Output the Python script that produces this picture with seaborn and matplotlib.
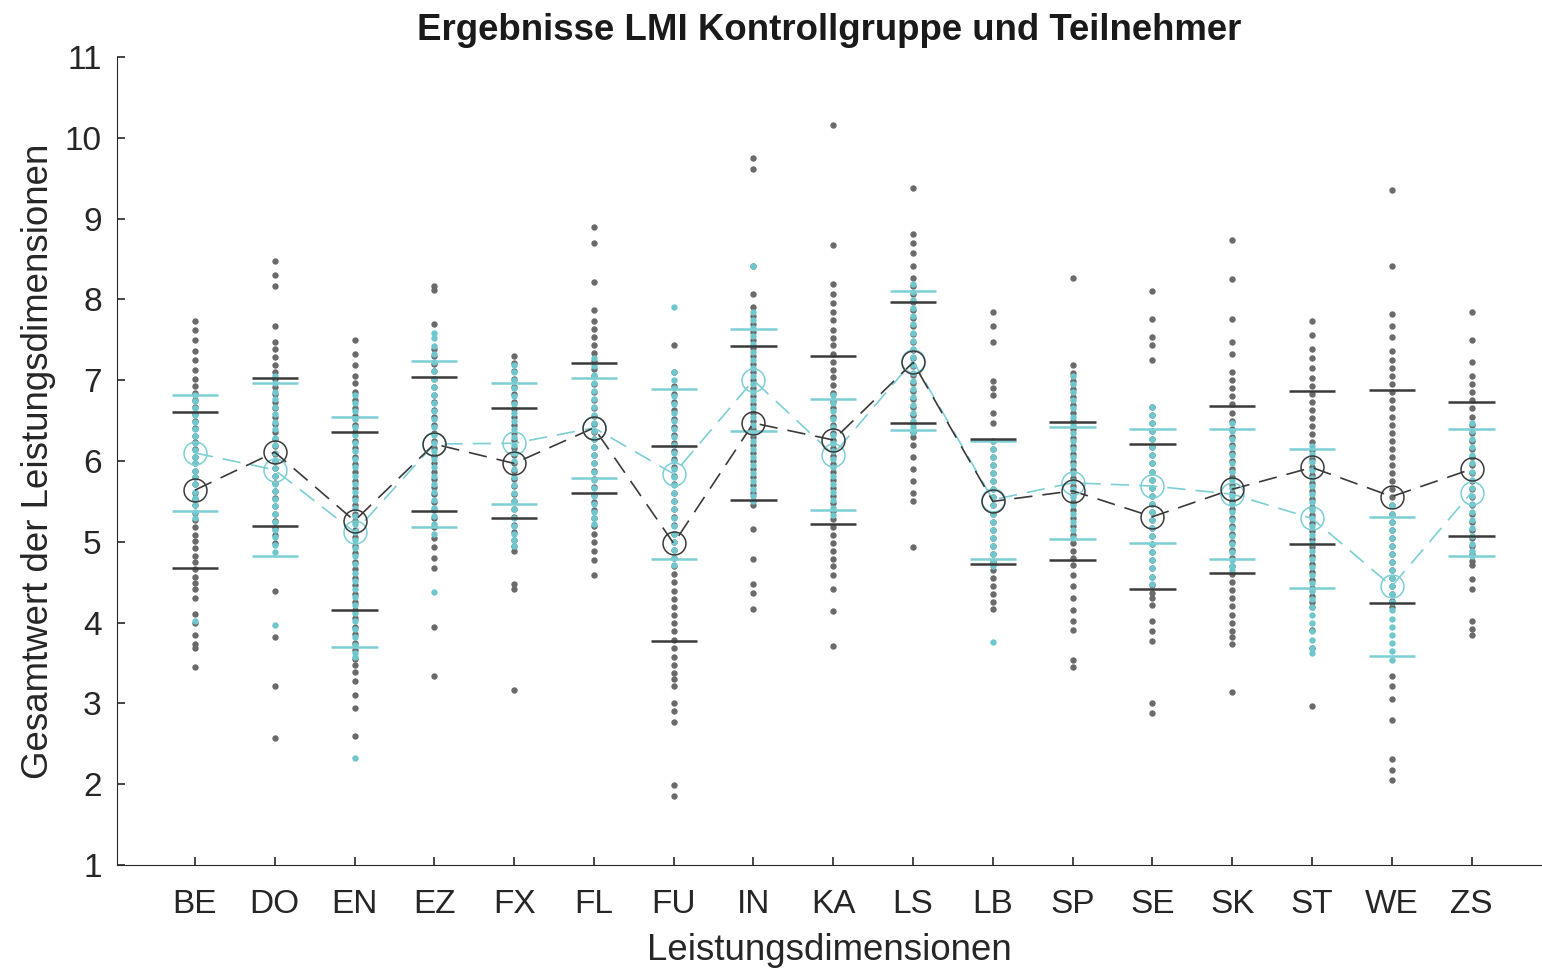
import pandas as pd
import matplotlib
matplotlib.use('Agg')
import matplotlib.pyplot as plt
import seaborn as sns

dimensionen = ['BE', 'DO', 'EN', 'EZ', 'FX', 'FL', 'FU', 'IN', 'KA',
               'LS', 'LB', 'SP', 'SE', 'SK', 'ST', 'WE', 'ZS']

# Einzelwerte Kontrollgruppe (grau)
kg_BE = [7.73, 7.62, 7.50, 7.36, 7.25, 7.13, 7.02, 6.93, 6.84, 6.76, 6.67, 6.58, 6.50, 6.41,
         6.31, 6.23, 6.15, 6.05, 5.97, 5.88, 5.80, 5.71, 5.61, 5.53, 5.45, 5.36, 5.27, 5.18,
         5.09, 5.01, 4.92, 4.83, 4.75, 4.66, 4.57, 4.49, 4.42, 4.31, 4.11, 4.00, 3.85, 3.74,
         3.68, 3.45]
kg_DO = [8.47, 8.30, 8.16, 7.67, 7.47, 7.38, 7.29, 7.19, 7.10, 7.02, 6.92, 6.83, 6.73, 6.65,
         6.55, 6.46, 6.36, 6.27, 6.19, 6.09, 6.00, 5.91, 5.81, 5.73, 5.63, 5.54, 5.44, 5.35,
         5.26, 5.17, 5.08, 4.99, 4.39, 3.82, 3.22, 2.57]
kg_EN = [7.50, 7.33, 7.19, 7.05, 6.96, 6.85, 6.76, 6.65, 6.56, 6.45, 6.36, 6.25, 6.16, 6.05,
         5.96, 5.86, 5.75, 5.66, 5.55, 5.46, 5.35, 5.26, 5.15, 5.06, 4.95, 4.86, 4.75, 4.66,
         4.55, 4.46, 4.35, 4.26, 4.15, 4.06, 3.95, 3.86, 3.75, 3.66, 3.55, 3.47, 3.39, 3.28,
         3.11, 2.94, 2.60]
kg_EZ = [8.16, 8.12, 7.70, 7.39, 7.30, 7.20, 7.11, 7.01, 6.92, 6.82, 6.73, 6.63, 6.54, 6.44,
         6.35, 6.25, 6.16, 6.06, 5.97, 5.87, 5.78, 5.68, 5.59, 5.49, 5.39, 5.30, 5.18, 5.05,
         4.93, 4.80, 4.67, 3.94, 3.34]
kg_FX = [7.30, 7.21, 7.11, 7.02, 6.92, 6.83, 6.73, 6.64, 6.54, 6.45, 6.35, 6.26, 6.16, 6.07,
         5.97, 5.88, 5.78, 5.69, 5.59, 5.50, 5.40, 5.31, 5.21, 5.12, 5.02, 4.95, 4.88, 4.48,
         4.42, 3.17]
kg_FL = [8.90, 8.70, 8.22, 7.87, 7.73, 7.63, 7.53, 7.44, 7.34, 7.24, 7.14, 7.05, 6.95, 6.85,
         6.75, 6.66, 6.56, 6.46, 6.36, 6.27, 6.17, 6.07, 5.97, 5.88, 5.78, 5.68, 5.58, 5.49,
         5.39, 5.29, 5.19, 5.10, 5.00, 4.88, 4.77, 4.59]
kg_FU = [7.44, 7.10, 6.93, 6.83, 6.73, 6.63, 6.52, 6.42, 6.32, 6.22, 6.12, 6.02, 5.92, 5.81,
         5.71, 5.61, 5.51, 5.41, 5.31, 5.21, 5.10, 5.00, 4.90, 4.80, 4.70, 4.60, 4.50, 4.39,
         4.29, 4.19, 4.09, 3.99, 3.89, 3.79, 3.68, 3.58, 3.48, 3.38, 3.30, 3.22, 3.00, 2.90,
         2.77, 1.99, 1.85]
kg_IN = [9.75, 9.61, 8.41, 8.07, 7.90, 7.80, 7.70, 7.60, 7.50, 7.40, 7.30, 7.20, 7.10, 7.00,
         6.90, 6.80, 6.70, 6.60, 6.50, 6.40, 6.30, 6.20, 6.10, 6.00, 5.90, 5.80, 5.70, 5.60,
         5.50, 5.45, 5.16, 4.79, 4.48, 4.37, 4.17]
kg_KA = [10.16, 8.67, 8.19, 8.07, 7.95, 7.85, 7.74, 7.62, 7.52, 7.43, 7.33, 7.23, 7.13, 7.04,
         6.94, 6.84, 6.74, 6.65, 6.55, 6.45, 6.35, 6.26, 6.16, 6.06, 5.96, 5.87, 5.77, 5.67,
         5.57, 5.48, 5.38, 5.28, 5.18, 5.09, 4.99, 4.89, 4.79, 4.70, 4.59, 4.42, 4.14, 3.71]
kg_LS = [9.38, 8.81, 8.70, 8.58, 8.41, 8.27, 8.17, 8.07, 7.97, 7.87, 7.77, 7.67, 7.57, 7.47,
         7.37, 7.27, 7.17, 7.07, 6.97, 6.87, 6.77, 6.67, 6.57, 6.47, 6.36, 6.30, 6.20, 6.05,
         5.90, 5.75, 5.60, 5.50, 4.93]
kg_LB = [7.84, 7.67, 7.47, 6.99, 6.90, 6.82, 6.59, 6.47, 6.25, 6.15, 6.05, 5.95, 5.85, 5.75,
         5.65, 5.55, 5.45, 5.35, 5.25, 5.15, 5.05, 4.95, 4.85, 4.75, 4.65, 4.55, 4.45, 4.35,
         4.25, 4.17]
kg_SP = [8.27, 7.19, 7.09, 6.99, 6.89, 6.79, 6.69, 6.59, 6.49, 6.39, 6.29, 6.19, 6.09, 5.99,
         5.89, 5.79, 5.69, 5.59, 5.49, 5.39, 5.29, 5.19, 5.09, 4.99, 4.89, 4.80, 4.71, 4.59,
         4.45, 4.30, 4.15, 4.02, 3.91, 3.54, 3.45]
kg_SE = [8.10, 7.76, 7.53, 7.44, 7.25, 6.67, 6.57, 6.47, 6.37, 6.27, 6.17, 6.07, 5.97, 5.87,
         5.77, 5.67, 5.57, 5.47, 5.37, 5.27, 5.17, 5.07, 4.97, 4.87, 4.77, 4.67, 4.57, 4.47,
         4.37, 4.30, 4.22, 4.02, 3.90, 3.77, 3.00, 2.88]
kg_SK = [8.73, 8.25, 7.76, 7.47, 7.33, 7.10, 7.00, 6.90, 6.80, 6.70, 6.60, 6.50, 6.40, 6.30,
         6.20, 6.10, 6.00, 5.90, 5.80, 5.70, 5.60, 5.50, 5.40, 5.30, 5.20, 5.10, 5.00, 4.90,
         4.80, 4.70, 4.60, 4.50, 4.40, 4.30, 4.20, 4.10, 4.00, 3.90, 3.82, 3.74, 3.14]
kg_ST = [7.73, 7.56, 7.39, 7.28, 7.15, 7.03, 6.93, 6.83, 6.73, 6.63, 6.53, 6.43, 6.33, 6.23,
         6.13, 6.03, 5.93, 5.83, 5.73, 5.63, 5.53, 5.43, 5.33, 5.23, 5.13, 5.03, 4.93, 4.83,
         4.73, 4.63, 4.53, 4.43, 4.33, 4.25, 4.19, 3.91, 3.68, 2.97]
kg_WE = [9.36, 8.41, 7.82, 7.67, 7.53, 7.36, 7.25, 7.15, 7.05, 6.95, 6.85, 6.75, 6.65, 6.55,
         6.45, 6.35, 6.25, 6.15, 6.05, 5.95, 5.85, 5.75, 5.65, 5.55, 5.45, 5.35, 5.25, 5.15,
         5.05, 4.95, 4.85, 4.75, 4.65, 4.55, 4.45, 4.35, 4.27, 4.19, 3.34, 3.22, 3.05, 2.80,
         2.31, 2.18, 2.05]
kg_ZS = [7.84, 7.50, 7.22, 7.05, 6.95, 6.85, 6.75, 6.65, 6.55, 6.45, 6.35, 6.25, 6.15, 6.05,
         5.95, 5.85, 5.75, 5.65, 5.55, 5.45, 5.35, 5.25, 5.15, 5.05, 4.95, 4.85, 4.76, 4.71,
         4.54, 4.42, 4.02, 3.92, 3.85]

# Einzelwerte Teilnehmer (cyan)
tn_BE = [6.82, 6.74, 6.65, 6.57, 6.48, 6.40, 6.31, 6.22, 6.14, 6.05, 5.97, 5.88, 5.80, 5.71,
         5.62, 5.54, 5.45, 5.37, 5.30, 4.02]
tn_DO = [7.05, 6.96, 6.86, 6.77, 6.67, 6.58, 6.48, 6.39, 6.29, 6.20, 6.10, 6.01, 5.91, 5.82,
         5.72, 5.63, 5.53, 5.44, 5.34, 5.25, 5.15, 5.06, 4.96, 4.87, 3.97]
tn_EN = [6.82, 6.72, 6.62, 6.52, 6.42, 6.32, 6.22, 6.12, 6.02, 5.92, 5.82, 5.72, 5.62, 5.52,
         5.42, 5.32, 5.22, 5.12, 5.02, 4.92, 4.82, 4.72, 4.62, 4.52, 4.42, 4.32, 4.22, 4.12,
         4.02, 3.92, 3.82, 3.72, 3.62, 3.57, 2.33]
tn_EZ = [7.59, 7.52, 7.42, 7.32, 7.22, 7.12, 7.02, 6.92, 6.82, 6.72, 6.62, 6.52, 6.42, 6.32,
         6.22, 6.12, 6.02, 5.92, 5.82, 5.72, 5.62, 5.52, 5.42, 5.32, 5.22, 5.10, 4.38]
tn_FX = [7.19, 7.10, 7.00, 6.90, 6.80, 6.70, 6.60, 6.50, 6.40, 6.30, 6.20, 6.10, 6.00, 5.90,
         5.80, 5.70, 5.60, 5.50, 5.40, 5.30, 5.20, 5.10, 5.02, 4.95]
tn_FL = [7.27, 7.17, 7.07, 6.97, 6.87, 6.77, 6.67, 6.57, 6.47, 6.37, 6.27, 6.17, 6.07, 5.97,
         5.87, 5.77, 5.67, 5.57, 5.47, 5.37, 5.29, 5.22]
tn_FU = [7.90, 7.10, 7.00, 6.90, 6.80, 6.70, 6.60, 6.50, 6.40, 6.30, 6.20, 6.10, 6.00, 5.90,
         5.80, 5.70, 5.60, 5.50, 5.40, 5.30, 5.20, 5.10, 5.00, 4.90, 4.80, 4.71]
tn_IN = [8.41, 7.85, 7.75, 7.65, 7.55, 7.45, 7.35, 7.25, 7.15, 7.05, 6.95, 6.85, 6.75, 6.65,
         6.55, 6.45, 6.35, 6.25, 6.15, 6.05, 5.95, 5.85, 5.75, 5.65, 5.57, 5.50]
tn_KA = [6.82, 6.72, 6.62, 6.52, 6.42, 6.32, 6.22, 6.12, 6.02, 5.92, 5.82, 5.72, 5.62, 5.52,
         5.42, 5.33]
tn_LS = [8.19, 8.09, 7.99, 7.89, 7.79, 7.69, 7.59, 7.49, 7.39, 7.29, 7.19, 7.09, 6.99, 6.89,
         6.79, 6.69, 6.59, 6.49, 6.42, 6.36]
tn_LB = [6.25, 6.15, 6.05, 5.95, 5.85, 5.75, 5.65, 5.55, 5.45, 5.35, 5.25, 5.15, 5.05, 4.95,
         4.85, 4.76, 4.70, 3.76]
tn_SP = [7.05, 6.95, 6.85, 6.75, 6.65, 6.55, 6.45, 6.35, 6.25, 6.15, 6.05, 5.95, 5.85, 5.75,
         5.65, 5.55, 5.45, 5.35, 5.25, 5.15, 5.05]
tn_SE = [6.67, 6.57, 6.47, 6.37, 6.27, 6.17, 6.07, 5.97, 5.87, 5.77, 5.67, 5.57, 5.47, 5.37,
         5.27, 5.17, 5.07, 4.97, 4.87, 4.77, 4.67, 4.57, 4.48]
tn_SK = [6.47, 6.37, 6.27, 6.17, 6.07, 5.97, 5.87, 5.77, 5.67, 5.57, 5.47, 5.37, 5.27, 5.17,
         5.07, 4.97, 4.87, 4.77, 4.70, 4.65]
tn_ST = [6.19, 6.09, 5.99, 5.89, 5.79, 5.69, 5.59, 5.49, 5.39, 5.29, 5.19, 5.09, 4.99, 4.89,
         4.79, 4.69, 4.59, 4.49, 4.39, 4.29, 4.19, 4.09, 3.99, 3.89, 3.79, 3.69, 3.62]
tn_WE = [5.45, 5.35, 5.25, 5.15, 5.05, 4.95, 4.85, 4.75, 4.65, 4.55, 4.45, 4.35, 4.25, 4.15,
         4.05, 3.95, 3.85, 3.75, 3.65, 3.54]
tn_ZS = [6.47, 6.37, 6.27, 6.17, 6.07, 5.97, 5.87, 5.77, 5.67, 5.57, 5.47, 5.37, 5.27, 5.17,
         5.07, 4.97, 4.89, 4.82]

# Mittelwerte und Standardabweichungen
kg_mittel = [5.64, 6.11, 5.26, 6.21, 5.97, 6.41, 4.98, 6.47, 6.26, 7.22, 5.50, 5.63, 5.31, 5.65, 5.92, 5.56, 5.90]
kg_sd = [0.97, 0.92, 1.10, 0.83, 0.68, 0.80, 1.21, 0.95, 1.04, 0.75, 0.77, 0.85, 0.90, 1.03, 0.95, 1.32, 0.83]
tn_mittel = [6.10, 5.89, 5.12, 6.21, 6.22, 6.41, 5.84, 7.00, 6.08, 7.24, 5.52, 5.73, 5.69, 5.59, 5.29, 4.45, 5.61]
tn_sd = [0.72, 1.07, 1.42, 1.03, 0.75, 0.62, 1.05, 0.63, 0.69, 0.86, 0.73, 0.69, 0.70, 0.80, 0.86, 0.86, 0.78]

kg_werte = [kg_BE, kg_DO, kg_EN, kg_EZ, kg_FX, kg_FL, kg_FU, kg_IN, kg_KA,
            kg_LS, kg_LB, kg_SP, kg_SE, kg_SK, kg_ST, kg_WE, kg_ZS]
tn_werte = [tn_BE, tn_DO, tn_EN, tn_EZ, tn_FX, tn_FL, tn_FU, tn_IN, tn_KA,
            tn_LS, tn_LB, tn_SP, tn_SE, tn_SK, tn_ST, tn_WE, tn_ZS]

kontrolle = pd.DataFrame([(d, w) for d, ws in zip(dimensionen, kg_werte) for w in ws], columns=['dim', 'wert'])
teilnehmer = pd.DataFrame([(d, w) for d, ws in zip(dimensionen, tn_werte) for w in ws], columns=['dim', 'wert'])
stats = pd.DataFrame({'dim': dimensionen, 'kg_m': kg_mittel, 'kg_sd': kg_sd,
                      'tn_m': tn_mittel, 'tn_sd': tn_sd})
stats['pos'] = range(len(dimensionen))

grau_punkt = '#6a6a6a'
grau_linie = '#3a3a3a'
cyan_punkt = '#6ec7cd'
cyan_linie = '#7ccfd4'

sns.set_style('ticks')
plt.rcParams['font.family'] = ['Liberation Sans', 'DejaVu Sans']

fig = plt.figure(figsize=(15.42, 9.73), dpi=100)
ax = fig.add_axes([117 / 1542, 108 / 973, 1424 / 1542, 808 / 973])

# Einzelwerte
sns.stripplot(data=kontrolle, x='dim', y='wert', order=dimensionen, jitter=False,
              color=grau_punkt, size=4.6, linewidth=0, ax=ax, zorder=2)
sns.stripplot(data=teilnehmer, x='dim', y='wert', order=dimensionen, jitter=False,
              color=cyan_punkt, size=4.6, linewidth=0, ax=ax, zorder=3)

# Mittelwerte mit gestrichelter Verbindung
sns.lineplot(data=stats, x='pos', y='kg_m', color=grau_linie, lw=1.2, dashes=False,
             ax=ax, zorder=5, sort=False)
sns.lineplot(data=stats, x='pos', y='tn_m', color=cyan_linie, lw=1.2, dashes=False,
             ax=ax, zorder=4, sort=False)
ax.lines[-2].set_linestyle((0, (11, 6)))
ax.lines[-1].set_linestyle((0, (11, 6)))
ax.plot(stats['pos'], stats['kg_m'], ls='none', marker='o', ms=16.5, mfc='none',
        mec=grau_linie, mew=1.1, zorder=6)
ax.plot(stats['pos'], stats['tn_m'], ls='none', marker='o', ms=16.5, mfc='none',
        mec=cyan_linie, mew=1.1, zorder=5)

# Standardabweichung als Querstriche
for m, s, farbe, z in [('kg_m', 'kg_sd', grau_linie, 6), ('tn_m', 'tn_sd', cyan_linie, 5)]:
    for y in [stats[m] + stats[s], stats[m] - stats[s]]:
        ax.hlines(y, stats['pos'] - 0.29, stats['pos'] + 0.29, color=farbe, lw=1.8, zorder=z)

ax.set_xlim(-0.977, 16.87)
ax.set_ylim(1, 11)
ax.set_yticks(range(1, 12))
sns.despine(ax=ax)
ax.spines['left'].set_color('#262626')
ax.spines['bottom'].set_color('#262626')
ax.tick_params(direction='in', length=6, width=1.2, labelsize=24, colors='#262626')
ax.tick_params(axis='x', pad=17)
ax.tick_params(axis='y', pad=11)
ax.set_xlabel('Leistungsdimensionen', fontsize=26.4, color='#262626', labelpad=10)
ax.set_ylabel('Gesamtwert der Leistungsdimensionen', fontsize=26.4, color='#262626', labelpad=6)
ax.set_title('Ergebnisse LMI Kontrollgruppe und Teilnehmer', fontsize=26.4, fontweight='bold',
             color='#1a1a1a', pad=12)

fig.savefig('out.png', dpi=100)
